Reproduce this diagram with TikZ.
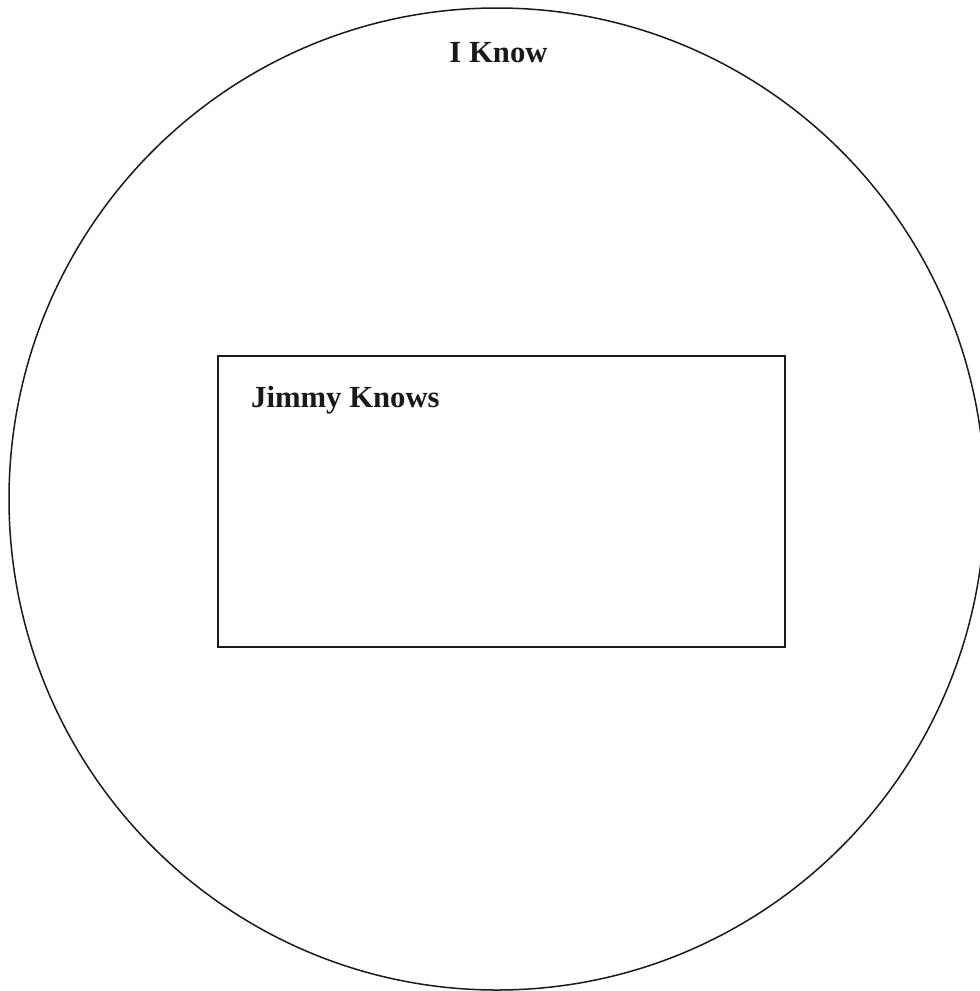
\documentclass[tikz,border=0pt]{standalone}
\usepackage{fontspec}
\setmainfont{Liberation Serif}
\begin{document}
\begin{tikzpicture}[x=1pt,y=-1pt,
  outline/.style={draw=black!90,line width=1.5pt},
  lbl/.style={font=\fontsize{30.7}{36}\selectfont\bfseries,inner sep=0pt,text=black!90}]
\useasboundingbox (0,0) rectangle (980,991);
\begin{scope}
\clip (0,0) rectangle (980,991);
\draw[outline] (497,499) ellipse [x radius=488, y radius=491];
\end{scope}
\node[outline,minimum width=567pt,minimum height=291pt,inner sep=0pt,anchor=north west] (box) at (217,355) {};
\node[lbl,anchor=base] (iknow) at (498.5,62) {I Know};
\node[lbl,anchor=base west] (jimmy) at (251,407) {Jimmy Knows};
\end{tikzpicture}
\end{document}
